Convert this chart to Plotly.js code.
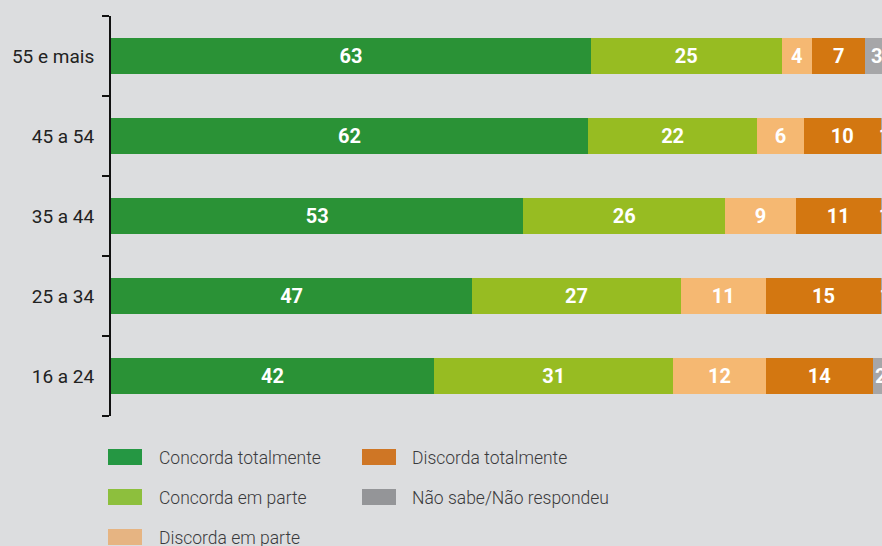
<!DOCTYPE html>
<html>
<head>
<meta charset="utf-8">
<script src="https://cdn.plot.ly/plotly-3.0.1.min.js"></script>
<style>
  html, body { margin: 0; padding: 0; background: #dcdddf; }
  #chart { width: 882px; height: 546px; }
</style>
</head>
<body>
<div id="chart"></div>
<script>
// Categories (bottom to top)
var categories = ["16 a 24", "25 a 34", "35 a 44", "45 a 54", "55 e mais"];

// Series names
var seriesNames = ["Concorda totalmente", "Concorda em parte", "Discorda em parte", "Discorda totalmente", "Não sabe/Não respondeu"];

// Bar lengths (per category, same order as categories)
var concordaTotalmente  = [42.4, 47.4, 54.1, 62.6, 63];
var concordaEmParte     = [31.4, 27.4, 26.5, 22.2, 25];
var discordaEmParte     = [12.1, 11.1, 9.3, 6.1, 4];
var discordaTotalmente  = [14.1, 15.2, 11.1, 10.1, 7];
var naoSabe             = [2, 1, 1, 1, 3];

// Printed labels
var labelsConcordaTotalmente = [42, 47, 53, 62, 63];
var labelsConcordaEmParte    = [31, 27, 26, 22, 25];
var labelsDiscordaEmParte    = [12, 11, 9, 6, 4];
var labelsDiscordaTotalmente = [14, 15, 11, 10, 7];
var labelsNaoSabe            = [2, 1, 1, 1, 3];

var barColors    = ["#2a9236", "#97bc22", "#f5b872", "#d37711", "#a6a6a8"];
var legendColors = ["#259743", "#8dbf3d", "#e6b482", "#cf7625", "#949598"];

var values = [concordaTotalmente, concordaEmParte, discordaEmParte, discordaTotalmente, naoSabe];
var labels = [labelsConcordaTotalmente, labelsConcordaEmParte, labelsDiscordaEmParte, labelsDiscordaTotalmente, labelsNaoSabe];

var traces = values.map(function (v, i) {
  return {
    type: "bar",
    orientation: "h",
    name: seriesNames[i],
    y: categories,
    x: v,
    text: labels[i].map(String),
    textposition: "inside",
    insidetextanchor: "middle",
    constraintext: "none",
    textangle: 0,
    textfont: { family: "Roboto, 'Open Sans', sans-serif", size: 20, color: "#ffffff", weight: "bold" },
    marker: { color: barColors[i], line: { width: 0 } },
    cliponaxis: true,
    hoverinfo: "skip"
  };
});

// Manual legend (2 columns, row-wise order as in the reference)
var legendOrder = [0, 3, 1, 4, 2];
var L = 111, W = 771, T = 16, H = 400;
function px2x(p) { return (p - L) / W; }
function px2y(p) { return (T + H - p) / H; }
var colSwatchX = [108, 362];
var colTextX = [157, 410];
var rowY = [457, 497, 537];
var shapes = [], annotations = [];
legendOrder.forEach(function (s, k) {
  var col = k % 2, row = Math.floor(k / 2);
  shapes.push({
    type: "rect", xref: "paper", yref: "paper",
    x0: px2x(colSwatchX[col]), x1: px2x(colSwatchX[col] + 34),
    y0: px2y(rowY[row] - 8), y1: px2y(rowY[row] + 8),
    fillcolor: legendColors[s], line: { width: 0 }
  });
  annotations.push({
    xref: "paper", yref: "paper", x: px2x(colTextX[col]), y: px2y(rowY[row] + 1),
    xanchor: "left", yanchor: "middle", showarrow: false,
    text: seriesNames[s],
    font: { family: "Roboto, 'Open Sans', sans-serif", size: 17.5, color: "#3a3a3c", weight: 300 }
  });
});

var layout = {
  width: 882, height: 546,
  margin: { l: L, r: 0, t: T, b: 546 - T - H, pad: 0 },
  paper_bgcolor: "#dcdddf",
  plot_bgcolor: "#dcdddf",
  barmode: "stack",
  bargap: 0.54,
  showlegend: false,
  xaxis: {
    range: [0, W / 7.62],
    visible: false,
    fixedrange: true
  },
  yaxis: {
    type: "category",
    categoryorder: "array",
    categoryarray: categories,
    range: [-0.5, 4.5],
    showline: true, linecolor: "#111111", linewidth: 2,
    ticks: "outside", tickson: "boundaries", ticklen: 7, tickwidth: 2, tickcolor: "#111111",
    ticklabelstandoff: 11,
    showgrid: false, zeroline: false,
    tickfont: { family: "Roboto, 'Open Sans', sans-serif", size: 19, color: "#222222" },
    fixedrange: true
  },
  shapes: shapes,
  annotations: annotations
};

Plotly.newPlot("chart", traces, layout, { displayModeBar: false, staticPlot: true });
</script>
</body>
</html>
